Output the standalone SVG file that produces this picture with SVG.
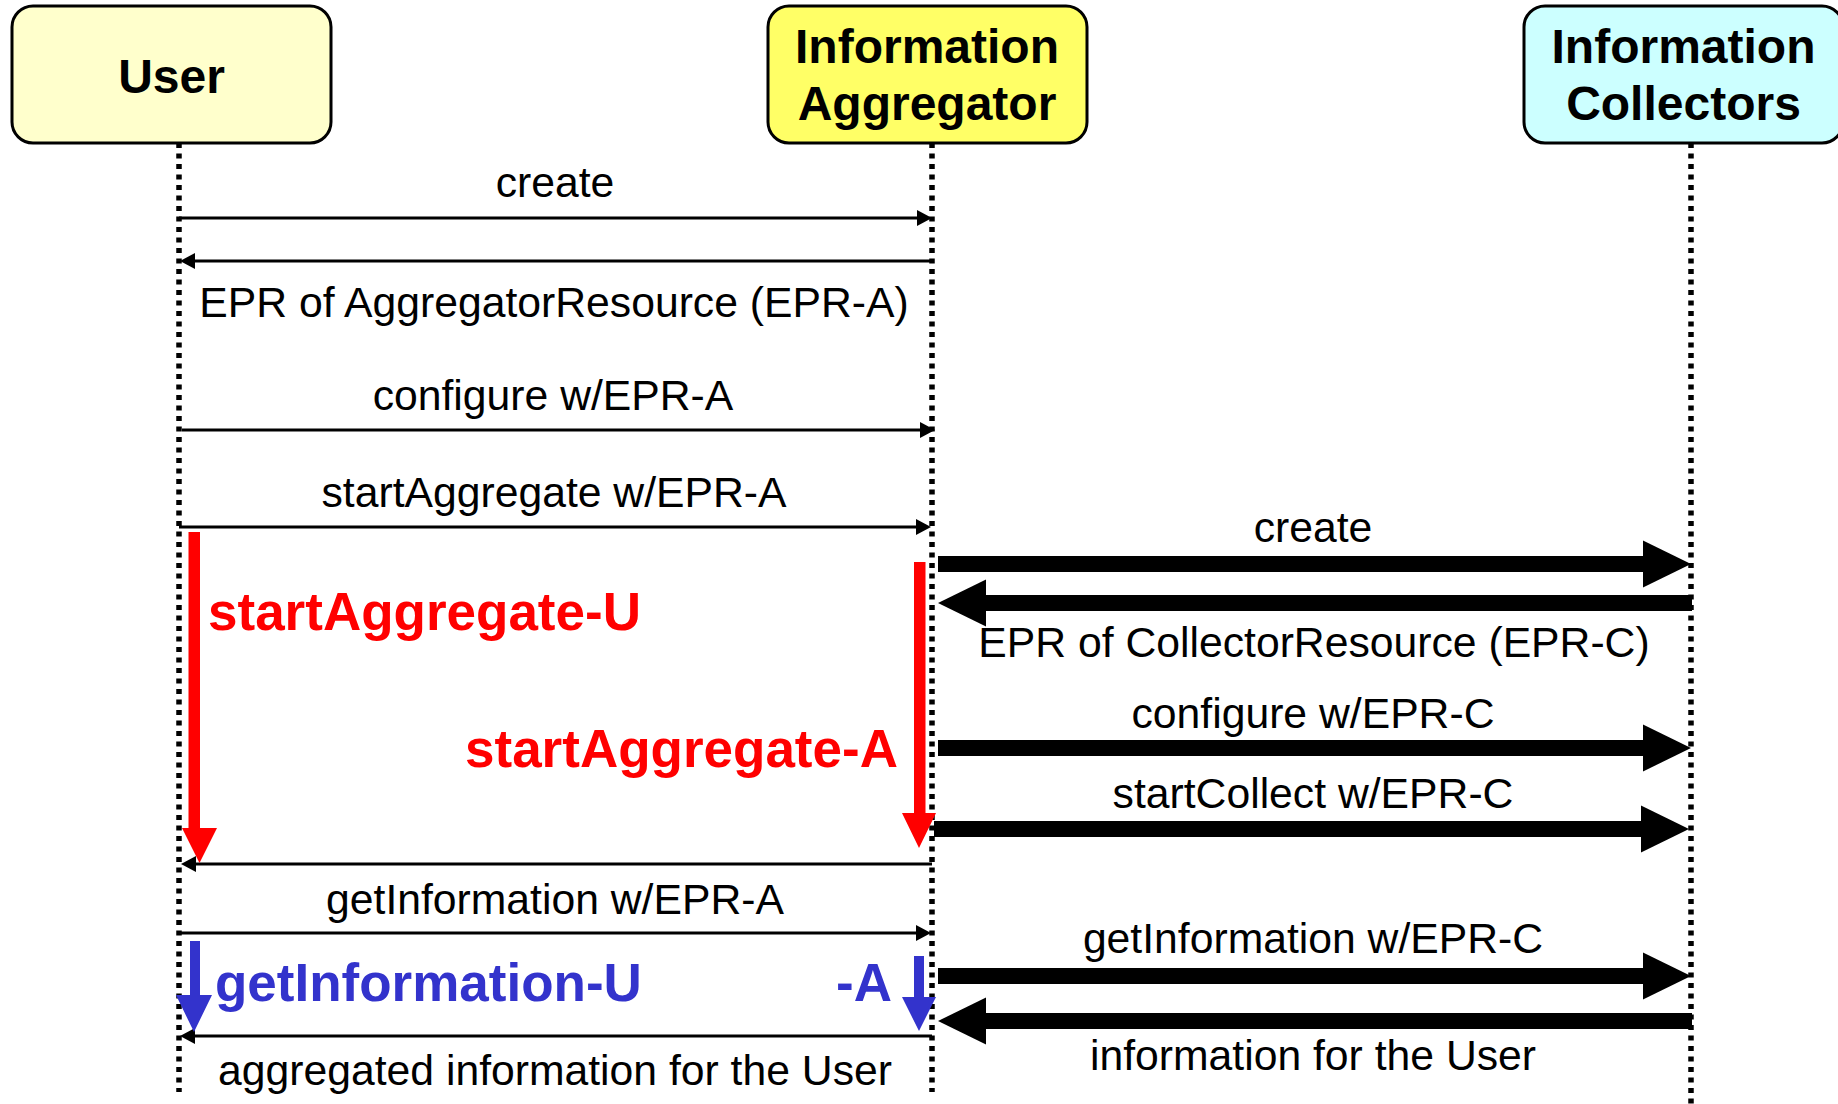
<svg xmlns="http://www.w3.org/2000/svg" width="1838" height="1104" viewBox="0 0 1838 1104">
  <style>
    .box { stroke: #000; stroke-width: 3; }
    .title { font-family: "Liberation Sans", Arial, sans-serif; font-weight: bold; font-size: 48px; fill: #000; text-anchor: middle; }
    .life { stroke: #000; stroke-width: 5.5; stroke-dasharray: 5 5.5; fill: none; }
    .msg { stroke: #000; stroke-width: 3; fill: none; }
    .big { stroke: #000; stroke-width: 16; fill: none; }
    .lbl { font-family: "Liberation Sans", Arial, sans-serif; font-size: 42.7px; fill: #000; text-anchor: middle; }
    .phase { font-family: "Liberation Sans", Arial, sans-serif; font-weight: bold; font-size: 53px; }
    .red { fill: #FF0000; }
    .blue { fill: #3333CC; }
  </style>
  <defs>
    <marker id="head" markerUnits="userSpaceOnUse" markerWidth="15" markerHeight="16" refX="0" refY="8" orient="auto" overflow="visible">
      <path d="M0,0 L15,8 L0,16 z" fill="#000"/>
    </marker>
    <marker id="bighead" markerUnits="userSpaceOnUse" markerWidth="48" markerHeight="47" refX="0" refY="23.5" orient="auto" overflow="visible">
      <path d="M0,0 L48,23.5 L0,47 z" fill="#000"/>
    </marker>
  </defs>

  <rect width="1838" height="1104" fill="#FFFFFF"/>

  <!-- participants -->
  <g id="user">
    <rect class="box" x="12" y="6" width="319" height="137" rx="21" fill="#FFFFCC"/>
    <text class="title" x="171.5" y="93">User</text>
  </g>
  <g id="aggregator">
    <rect class="box" x="768" y="6" width="319" height="137" rx="21" fill="#FFFF66"/>
    <text class="title" x="927" y="63">Information</text>
    <text class="title" x="927" y="120">Aggregator</text>
  </g>
  <g id="collectors">
    <rect class="box" x="1524" y="6" width="319" height="137" rx="21" fill="#CCFFFF"/>
    <text class="title" x="1683.5" y="63">Information</text>
    <text class="title" x="1683.5" y="120">Collectors</text>
  </g>

  <!-- lifelines -->
  <g id="lifelines">
    <line class="life" x1="179" y1="143" x2="179" y2="1092"/>
    <line class="life" x1="932" y1="143" x2="932" y2="1092"/>
    <line class="life" x1="1691" y1="143" x2="1691" y2="1104"/>
  </g>

  <!-- messages -->
  <g id="connectors">
    <!-- User <-> Aggregator -->
    <line class="msg" x1="179" y1="218" x2="917" y2="218" marker-end="url(#head)"/>
    <line class="msg" x1="932" y1="261" x2="195" y2="261" marker-end="url(#head)"/>
    <line class="msg" x1="182" y1="430" x2="920" y2="430" marker-end="url(#head)"/>
    <line class="msg" x1="179" y1="527" x2="916" y2="527" marker-end="url(#head)"/>
    <line class="msg" x1="932" y1="864" x2="196" y2="864" marker-end="url(#head)"/>
    <line class="msg" x1="179" y1="933" x2="916" y2="933" marker-end="url(#head)"/>
    <line class="msg" x1="932" y1="1036" x2="195" y2="1036" marker-end="url(#head)"/>

    <!-- Aggregator <-> Collectors -->
    <line class="big" x1="938" y1="564" x2="1643" y2="564" marker-end="url(#bighead)"/>
    <line class="big" x1="1692" y1="603" x2="986" y2="603" marker-end="url(#bighead)"/>
    <line class="big" x1="938" y1="748" x2="1643" y2="748" marker-end="url(#bighead)"/>
    <line class="big" x1="934" y1="829" x2="1641" y2="829" marker-end="url(#bighead)"/>
    <line class="big" x1="938" y1="976" x2="1643" y2="976" marker-end="url(#bighead)"/>
    <line class="big" x1="1692" y1="1021" x2="986" y2="1021" marker-end="url(#bighead)"/>

    <!-- processing spans -->
    <path class="red" d="M188.5,532 h11.5 v296 h17 l-17.5,35 l-17.5,-35 h6.5 z"/>
    <path class="red" d="M914,562 h11.5 v251 h10.5 l-17,35 l-17,-35 h12 z"/>
    <path class="blue" d="M190,941 h10 v54 h12 l-18,37 l-18,-37 h14 z"/>
    <path class="blue" d="M914,956 h10 v41 h12 l-17,34 l-17,-34 h12 z"/>
  </g>

  <!-- message labels -->
  <g id="labels">
    <text class="lbl" x="555" y="197">create</text>
    <text class="lbl" x="554" y="317">EPR of AggregatorResource (EPR-A)</text>
    <text class="lbl" x="553" y="410">configure w/EPR-A</text>
    <text class="lbl" x="554" y="507">startAggregate w/EPR-A</text>
    <text class="lbl" x="555" y="914">getInformation w/EPR-A</text>
    <text class="lbl" x="555" y="1085">aggregated information for the User</text>

    <text class="lbl" x="1313" y="542">create</text>
    <text class="lbl" x="1314" y="657">EPR of CollectorResource (EPR-C)</text>
    <text class="lbl" x="1313" y="728">configure w/EPR-C</text>
    <text class="lbl" x="1313" y="808">startCollect w/EPR-C</text>
    <text class="lbl" x="1313" y="953">getInformation w/EPR-C</text>
    <text class="lbl" x="1313" y="1070">information for the User</text>

    <text class="phase red" x="208" y="630">startAggregate-U</text>
    <text class="phase red" x="465" y="767">startAggregate-A</text>
    <text class="phase blue" x="215" y="1001">getInformation-U</text>
    <text class="phase blue" x="836" y="1001">-A</text>
  </g>
</svg>
